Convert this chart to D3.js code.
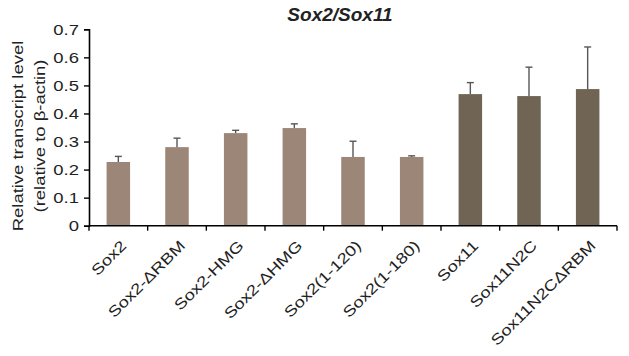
<!DOCTYPE html>
<html>
<head>
<meta charset="utf-8">
<script src="https://cdn.jsdelivr.net/npm/d3@7"></script>
<style>
  html, body { margin: 0; padding: 0; background: #fff; }
  svg { display: block; font-family: "Liberation Sans", Arial, sans-serif; }
</style>
</head>
<body>
<svg id="chart" width="629" height="356"></svg>
<script>
// Transcript levels relative to beta-actin, mean and upper error bar
const categories = ["Sox2", "Sox2-\u0394RBM", "Sox2-HMG", "Sox2-\u0394HMG", "Sox2(1-120)", "Sox2(1-180)", "Sox11", "Sox11N2C", "Sox11N2C\u0394RBM"];
const means = [0.227, 0.280, 0.330, 0.348, 0.245, 0.245, 0.469, 0.462, 0.487];
const errors = [0.020, 0.032, 0.010, 0.015, 0.056, 0.004, 0.041, 0.103, 0.150];
const groups = ["Sox2", "Sox2", "Sox2", "Sox2", "Sox2", "Sox2", "Sox11", "Sox11", "Sox11"];
const yTicks = [0, 0.1, 0.2, 0.3, 0.4, 0.5, 0.6, 0.7];

const svg = d3.select("#chart");
const plotLeft = 89, plotRight = 617, plotTop = 29.3, plotBottom = 225.7;
const fs = 15, stretch = 1.23;   // label font size and horizontal stretch

const x = d3.scaleBand().domain(categories).range([plotLeft, plotRight]).padding(0);
const y = d3.scaleLinear().domain([0, 0.7]).range([plotBottom, plotTop]);
const color = d3.scaleOrdinal().domain(["Sox2", "Sox11"]).range(["#9c8677", "#706455"]);
const barW = 23.5;
const cx = d => x(d) + x.bandwidth() / 2;

// Bars
svg.append("g").selectAll("rect")
  .data(categories)
  .join("rect")
  .attr("x", d => cx(d) - barW / 2)
  .attr("width", barW)
  .attr("y", (d, i) => y(means[i]))
  .attr("height", (d, i) => y(0) - y(means[i]))
  .attr("fill", (d, i) => color(groups[i]));

// Upper error bars
const eb = svg.append("g").attr("stroke", "#565656").attr("stroke-width", 1.4);
categories.forEach((c, i) => {
  const yTop = y(means[i] + errors[i]);
  eb.append("line").attr("x1", cx(c)).attr("x2", cx(c))
    .attr("y1", y(means[i])).attr("y2", yTop);
  eb.append("line").attr("x1", cx(c) - 3.5).attr("x2", cx(c) + 3.5)
    .attr("y1", yTop).attr("y2", yTop);
});

// Y axis
const yAxis = svg.append("g")
  .attr("transform", `translate(${plotLeft},0)`)
  .call(d3.axisLeft(y).tickValues(yTicks).tickFormat(d3.format("")).tickSize(5));
yAxis.select(".domain").attr("stroke", "#000").attr("stroke-width", 1.6);
yAxis.selectAll(".tick line").attr("stroke", "#000").attr("stroke-width", 1.4);
yAxis.selectAll(".tick text")
  .attr("x", 0)
  .attr("transform", `translate(-10,0) scale(${stretch},1)`)
  .attr("font-size", fs).attr("fill", "#222")
  .attr("font-family", "Liberation Sans, Arial, sans-serif");

// X axis line with boundary ticks
const xg = svg.append("g");
xg.append("line").attr("x1", plotLeft).attr("x2", plotRight)
  .attr("y1", y(0)).attr("y2", y(0)).attr("stroke", "#000").attr("stroke-width", 1.6);
const edges = categories.map(c => x(c)).concat([plotRight]);
xg.selectAll("line.tk").data(edges).join("line").attr("class", "tk")
  .attr("x1", d => d).attr("x2", d => d)
  .attr("y1", y(0)).attr("y2", y(0) + 5)
  .attr("stroke", "#000").attr("stroke-width", 1.4);

// Category labels, rotated
xg.selectAll("text").data(categories).join("text")
  .attr("transform", d => `translate(${cx(d) + 9},${y(0) + 21}) rotate(-45) scale(${stretch},1)`)
  .attr("text-anchor", "end")
  .attr("font-size", fs)
  .attr("fill", "#222")
  .text(d => d);

// Y axis title
const yt = svg.append("text")
  .attr("transform", `translate(23,136) rotate(-90) scale(${stretch},1)`)
  .attr("text-anchor", "middle")
  .attr("font-size", fs)
  .attr("fill", "#222");
yt.append("tspan").attr("x", 0).attr("dy", 0).text("Relative transcript level");
yt.append("tspan").attr("x", 0).attr("dy", 22).text("(relative to \u03b2-actin)");

// Chart title
svg.append("text")
  .attr("x", 340).attr("y", 21)
  .attr("text-anchor", "middle")
  .attr("font-size", 19)
  .attr("font-weight", "bold")
  .attr("font-style", "italic")
  .attr("fill", "#222")
  .text("Sox2/Sox11");
</script>
</body>
</html>
